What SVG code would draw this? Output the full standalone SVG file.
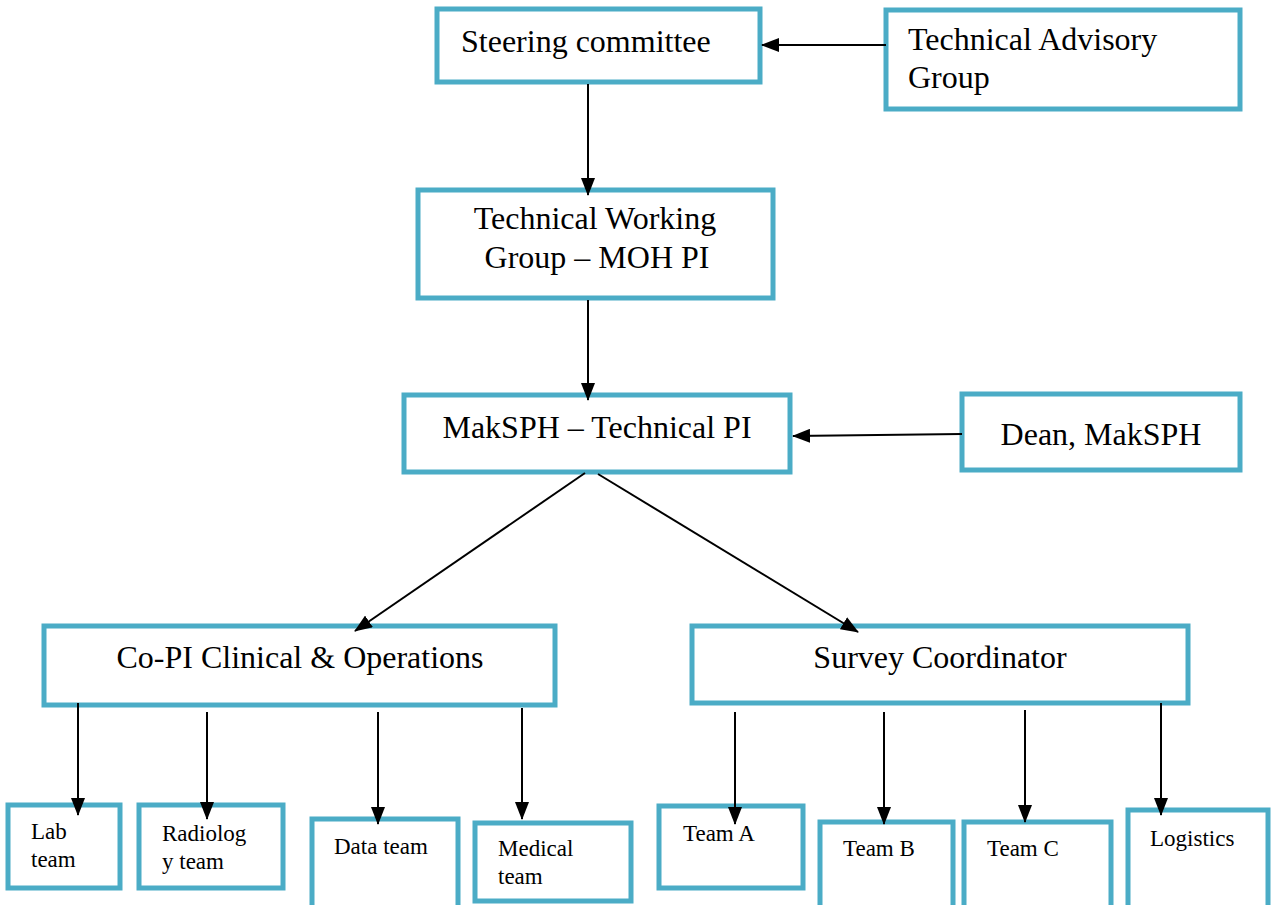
<svg xmlns="http://www.w3.org/2000/svg" width="1273" height="905" viewBox="0 0 1273 905">
<style>
.box{fill:#fff;stroke:#4BACC6;stroke-width:5}
.t{font-family:'Liberation Serif','Times New Roman',Tinos,'DejaVu Serif',serif;font-size:32px;fill:#000}
.s{font-family:'Liberation Serif','Times New Roman',Tinos,'DejaVu Serif',serif;font-size:23px;fill:#000}
.c{stroke:#000;stroke-width:2;fill:none;marker-end:url(#ah)}
</style>
<defs>
<marker id="ah" markerWidth="18" markerHeight="14" refX="17" refY="7" orient="auto" markerUnits="userSpaceOnUse">
<path d="M0,0 L18,7 L0,14 Z" fill="#000"/>
</marker>
</defs>
<rect width="1273" height="905" fill="#fff"/>
<g id="n-steering"><rect class="box" x="437" y="9" width="323" height="73"/><text class="t" x="461" y="52">Steering committee</text></g>
<g id="n-tag"><rect class="box" x="886" y="10" width="354" height="99"/><text class="t" x="908" y="50">Technical Advisory</text><text class="t" x="908" y="88">Group</text></g>
<g id="n-twg"><rect class="box" x="418" y="190" width="355" height="108"/><text class="t" x="595" y="229" text-anchor="middle">Technical Working</text><text class="t" x="597" y="268" text-anchor="middle">Group – MOH PI</text></g>
<g id="n-maksph"><rect class="box" x="404" y="395" width="386" height="77"/><text class="t" x="597" y="438" text-anchor="middle">MakSPH – Technical PI</text></g>
<g id="n-dean"><rect class="box" x="962" y="394" width="278" height="76"/><text class="t" x="1101" y="445" text-anchor="middle">Dean, MakSPH</text></g>
<g id="n-copi"><rect class="box" x="44" y="626" width="511" height="79"/><text class="t" x="300" y="668" text-anchor="middle">Co-PI Clinical &amp; Operations</text></g>
<g id="n-survey"><rect class="box" x="692" y="626" width="496" height="77"/><text class="t" x="940" y="668" text-anchor="middle">Survey Coordinator</text></g>
<g id="n-lab"><rect class="box" x="8" y="805" width="112" height="83"/><text class="s" x="31" y="839">Lab</text><text class="s" x="31" y="867">team</text></g>
<g id="n-radiology"><rect class="box" x="139" y="805" width="144" height="83"/><text class="s" x="162" y="841">Radiolog</text><text class="s" x="162" y="869">y team</text></g>
<g id="n-data"><rect class="box" x="312" y="819" width="146" height="90"/><text class="s" x="334" y="854">Data team</text></g>
<g id="n-medical"><rect class="box" x="475" y="823" width="156" height="78"/><text class="s" x="498" y="856">Medical</text><text class="s" x="498" y="884">team</text></g>
<g id="n-teama"><rect class="box" x="659" y="806" width="144" height="82"/><text class="s" x="683" y="841">Team A</text></g>
<g id="n-teamb"><rect class="box" x="820" y="822" width="133" height="90"/><text class="s" x="843" y="856">Team B</text></g>
<g id="n-teamc"><rect class="box" x="964" y="822" width="147" height="90"/><text class="s" x="987" y="856">Team C</text></g>
<g id="n-logistics"><rect class="box" x="1128" y="810" width="140" height="100"/><text class="s" x="1150" y="846">Logistics</text></g>
<g id="connectors">
<line class="c" x1="886" y1="45" x2="762" y2="45"/>
<line class="c" x1="588" y1="84" x2="588" y2="195"/>
<line class="c" x1="588" y1="300" x2="588" y2="400"/>
<line class="c" x1="962" y1="434" x2="793" y2="436"/>
<line class="c" x1="585" y1="473" x2="355" y2="631"/>
<line class="c" x1="598" y1="474" x2="858" y2="632"/>
<line class="c" x1="78" y1="703" x2="78" y2="815"/>
<line class="c" x1="207" y1="712" x2="207" y2="819"/>
<line class="c" x1="378" y1="712" x2="378" y2="824"/>
<line class="c" x1="522" y1="708" x2="522" y2="819"/>
<line class="c" x1="735" y1="712" x2="735" y2="824"/>
<line class="c" x1="884" y1="712" x2="884" y2="824"/>
<line class="c" x1="1025" y1="710" x2="1025" y2="822"/>
<line class="c" x1="1161" y1="703" x2="1161" y2="815"/>
</g>
</svg>
